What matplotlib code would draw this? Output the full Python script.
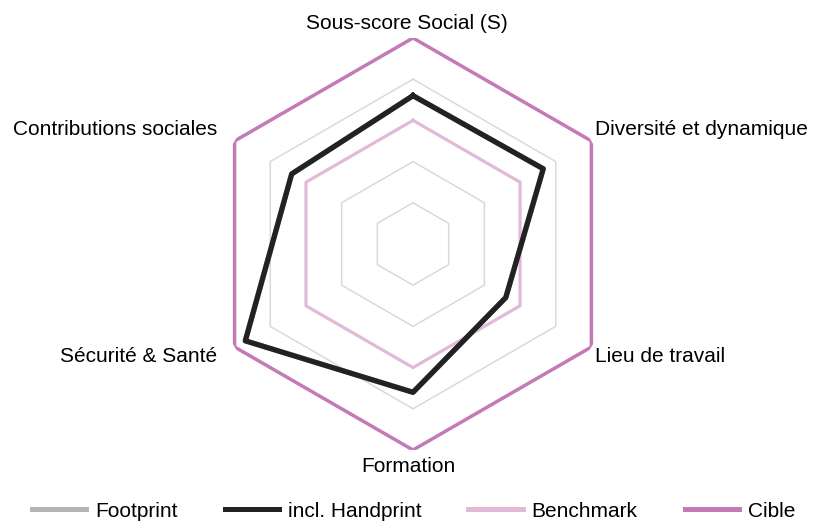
import numpy as np
from matplotlib import pyplot as plt

plt.rcParams['font.family'] = ['Liberation Sans', 'DejaVu Sans']

categories = ['Sous-score Social (S)', 'Diversité et dynamique', 'Lieu de travail',
              'Formation', 'Sécurité & Santé', 'Contributions sociales']
footprint = [3.6, 3.65, 2.6, 3.6, 4.7, 3.4]
handprint = [3.6, 3.65, 2.6, 3.6, 4.7, 3.4]
benchmark = [3, 3, 3, 3, 3, 3]
cible = [5, 5, 5, 5, 5, 5]
grid_levels = [1, 2, 3, 4]

n = len(categories)
theta = np.arange(n) * 2 * np.pi / n
theta_c = np.append(theta, theta[0])


def close(v):
    return np.append(v, v[0])


fig = plt.figure(figsize=(8.13, 5.21), dpi=100)
ax = fig.add_axes([0.2546, 0.1363, 0.5068, 0.7908], projection='polar')
ax.set_theta_zero_location('N')
ax.set_theta_direction(-1)
ax.set_ylim(0, 5)
ax.grid(False)
ax.set_xticks([])
ax.set_yticks([])
ax.spines['polar'].set_visible(False)
ax.patch.set_visible(False)

for g in grid_levels:
    ax.plot(theta_c, close([g] * n), color='#d9d9d9', lw=1.1, zorder=1)

ax.plot(theta_c, close(footprint), color='#b4b4b4', lw=3.8, label='Footprint', zorder=2)
ax.plot(theta_c, close(benchmark), color='#e2bad8', lw=2.3, label='Benchmark', zorder=3)
ax.plot(theta_c, close(handprint), color='#222222', lw=3.8, label='incl. Handprint', zorder=4)
ax.plot(theta_c, close(cible), color='#c47ab6', lw=2.5, label='Cible', zorder=5)

# label offsets in pixels (dx, dy) and horizontal alignment
offsets = [(-6, 9, 'center'), (4, 6, 'left'), (4, -15, 'left'),
           (-5, -22, 'center'), (-17, -15, 'right'), (-17, 6, 'right')]
for t, lab, (dx, dy, ha) in zip(theta, categories, offsets):
    ax.annotate(lab, xy=(t, 5), xytext=(dx * 0.72, dy * 0.72),
                textcoords='offset points', ha=ha, va='baseline',
                fontsize=15, color='black', annotation_clip=False)

h, l = ax.get_legend_handles_labels()
order = [0, 2, 1, 3]
leg = fig.legend([h[i] for i in order], [l[i] for i in order], loc='center',
                 bbox_to_anchor=(0.5086, 0.019), ncol=4, frameon=False, fontsize=15,
                 handlelength=2.6, handletextpad=0.43, columnspacing=2.26)
for ln in leg.get_lines():
    ln.set_linewidth(3.6)

fig.savefig('out.png', dpi=100)
